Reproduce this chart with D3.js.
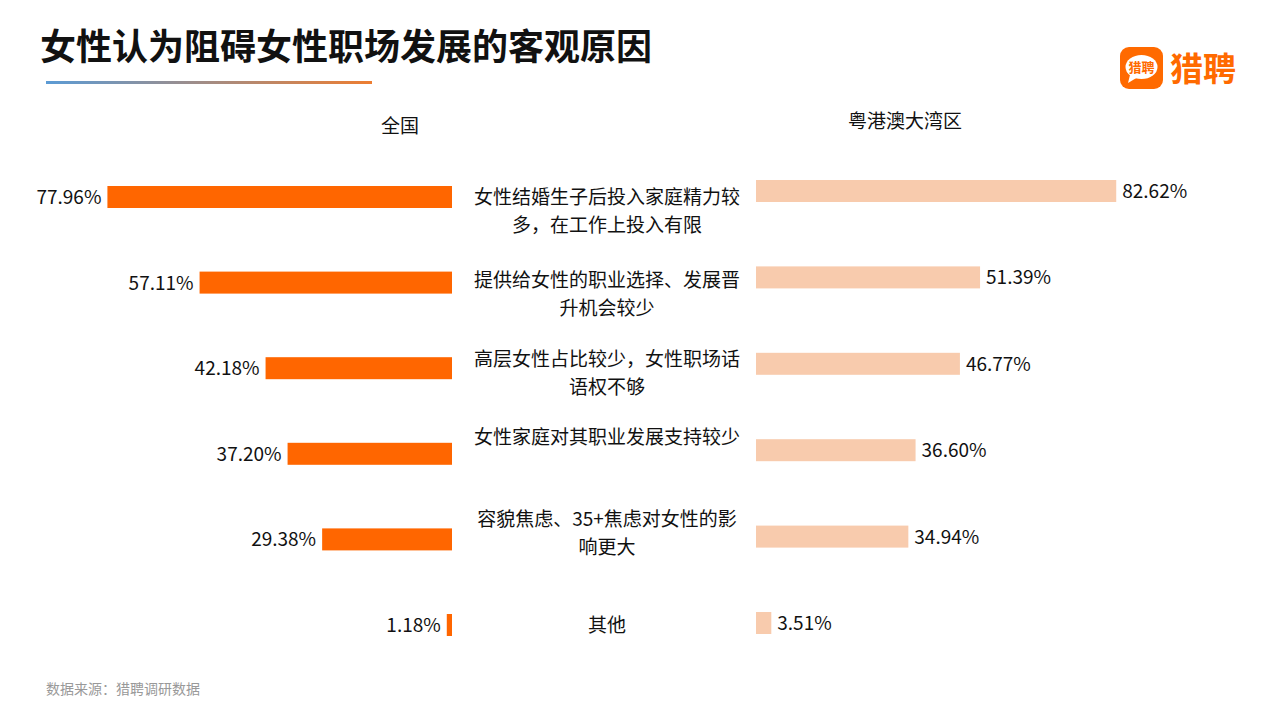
<!DOCTYPE html>
<html><head><meta charset="utf-8">
<script src="https://cdn.jsdelivr.net/npm/d3@7"></script>
<style>body{margin:0;background:#fff}text{font-family:"Noto Sans CJK SC","Noto Sans",sans-serif}</style>
</head><body><svg id="c" width="1280" height="720"></svg>
<script>
const categories = [
  ['女性结婚生子后投入家庭精力较', '多，在工作上投入有限'],
  ['提供给女性的职业选择、发展晋', '升机会较少'],
  ['高层女性占比较少，女性职场话', '语权不够'],
  ['女性家庭对其职业发展支持较少'],
  ['容貌焦虑、35+焦虑对女性的影', '响更大'],
  ['其他']
]
const national = [77.96, 57.11, 42.18, 37.20, 29.38, 1.18]
const gba = [82.62, 51.39, 46.77, 36.60, 34.94, 3.51]
const labelShift = [0, -3, -9, -17, -20, 0]

const svg = d3.select('#c')

svg.append('text').attr('x', 40).attr('y', 60).text('女性认为阻碍女性职场发展的客观原因')
  .style('font-size', 36).style('font-weight', 700).style('fill', '#111')

let grad = svg.append('defs').append('linearGradient').attr('id', 'g')
grad.append('stop').attr('offset', '0%').attr('stop-color', '#5b9bd5')
grad.append('stop').attr('offset', '100%').attr('stop-color', '#ed7d31')
svg.append('rect').attr('x', 46).attr('y', 81).attr('width', 326).attr('height', 3).style('fill', 'url(#g)')

// logo
let logo = svg.append('g').attr('transform', 'translate(1120,47)')
logo.append('rect').attr('width', 43).attr('height', 42).attr('rx', 9).style('fill', '#ff6a00')
logo.append('ellipse').attr('cx', 21.5).attr('cy', 20).attr('rx', 16).attr('ry', 12).style('fill', '#fff')
logo.append('path').attr('d', 'M10,28 L8,36 L18,30 Z').style('fill', '#fff')
logo.append('text').attr('x', 21.5).attr('y', 25).attr('text-anchor', 'middle').text('猎聘')
  .style('font-size', 13).style('font-weight', 700).style('fill', '#ff6a00')
svg.append('text').attr('x', 1170).attr('y', 81).text('猎聘')
  .style('font-size', 33).style('font-weight', 700).style('fill', '#ff6a00')

svg.append('text').attr('x', 400).attr('y', 133).attr('text-anchor', 'middle').text('全国').style('font-size', 19).style('fill', '#111')
svg.append('text').attr('x', 905).attr('y', 128).attr('text-anchor', 'middle').text('粤港澳大湾区').style('font-size', 19).style('fill', '#111')

const cyScale = d3.scalePoint().domain(d3.range(categories.length)).range([197, 625])
const barH = 22
const wL = d3.scaleLinear().domain([0, 100]).range([0, 442])
const wR = d3.scaleLinear().domain([0, 100]).range([0, 436])
const cy = i => cyScale(i)
const cyR = i => cyScale(i) - 6 + i * 0.8

svg.selectAll('.bl').data(national).join('rect')
  .attr('x', d => 452 - wL(d)).attr('y', (d, i) => cy(i) - barH / 2).attr('width', d => wL(d)).attr('height', barH)
  .style('fill', '#ff6600')
svg.selectAll('.tl').data(national).join('text')
  .attr('x', d => 446 - wL(d)).attr('y', (d, i) => cy(i) + 7).attr('text-anchor', 'end')
  .text(d => d.toFixed(2) + '%').style('font-size', 19).style('fill', '#111')

svg.selectAll('.br').data(gba).join('rect')
  .attr('x', 756).attr('y', (d, i) => cyR(i) - barH / 2).attr('width', d => wR(d)).attr('height', barH)
  .style('fill', '#f8cbad')
svg.selectAll('.tr').data(gba).join('text')
  .attr('x', d => 762 + wR(d)).attr('y', (d, i) => cyR(i) + 7)
  .text(d => d.toFixed(2) + '%').style('font-size', 19).style('fill', '#111')

categories.forEach((lines, i) => {
  let t = svg.append('text').attr('text-anchor', 'middle').style('font-size', 19).style('fill', '#111')
  lines.forEach((l, j) => {
    t.append('tspan').attr('x', 607).attr('y', cy(i) + labelShift[i] + 7 + j * 28).text(l)
  })
})

svg.append('text').attr('x', 46).attr('y', 694).text('数据来源：猎聘调研数据').style('font-size', 14).style('fill', '#999')
</script></body></html>
